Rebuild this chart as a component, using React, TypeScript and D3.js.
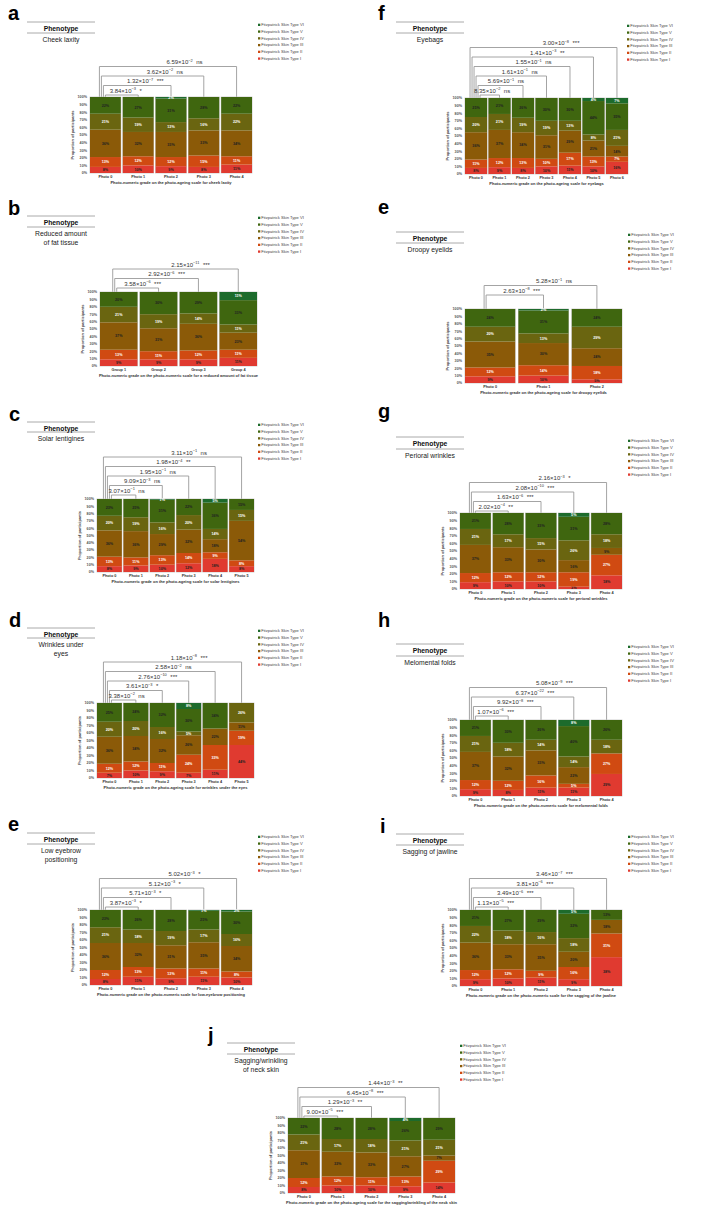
import React from 'react';
import * as d3 from 'd3';

const skinTypes = [
  'Fitzpatrick Skin Type I',
  'Fitzpatrick Skin Type II',
  'Fitzpatrick Skin Type III',
  'Fitzpatrick Skin Type IV',
  'Fitzpatrick Skin Type V',
  'Fitzpatrick Skin Type VI',
];
const skinColors = ['#e03a30', '#d04a12', '#8b5a08', '#6a6510', '#3f660f', '#1d6b2c'];
const labelColors = ['#222', '#fff', '#222', '#fff', '#222', '#fff'];
const keys = ['t0', 't1', 't2', 't3', 't4', 't5'];

const photos5 = ['Photo 0', 'Photo 1', 'Photo 2', 'Photo 3', 'Photo 4'];
const photos6 = ['Photo 0', 'Photo 1', 'Photo 2', 'Photo 3', 'Photo 4', 'Photo 5'];
const photos7 = ['Photo 0', 'Photo 1', 'Photo 2', 'Photo 3', 'Photo 4', 'Photo 5', 'Photo 6'];
const photos3 = ['Photo 0', 'Photo 1', 'Photo 2'];
const groups4 = ['Group 1', 'Group 2', 'Group 3', 'Group 4'];

// values per category: [I, II, III, IV, V, VI] (%)
const cheekValues = [[8, 13, 36, 21, 22, 0], [10, 12, 32, 19, 27, 0], [9, 12, 33, 13, 31, 2], [8, 15, 33, 16, 28, 0], [11, 11, 34, 22, 22, 0]];
const fatValues = [[9, 13, 37, 21, 20, 0], [9, 11, 31, 19, 30, 0], [9, 12, 36, 14, 29, 0], [11, 11, 23, 11, 33, 11]];
const solarValues = [[8, 13, 36, 20, 23, 0], [9, 11, 36, 19, 25, 0], [10, 13, 29, 16, 31, 1], [12, 14, 32, 20, 22, 0], [18, 9, 18, 14, 36, 5], [8, 8, 54, 15, 15, 0]];
const wrinkEyesValues = [[7, 12, 36, 20, 25, 0], [10, 12, 34, 20, 24, 0], [9, 11, 32, 16, 32, 0], [7, 24, 26, 5, 30, 8], [11, 33, 22, 0, 34, 0], [44, 19, 11, 26, 0, 0]];
const browValues = [[8, 12, 36, 21, 23, 0], [11, 13, 32, 18, 26, 0], [9, 13, 31, 19, 28, 0], [11, 11, 35, 17, 25, 1], [10, 8, 34, 16, 30, 2]];
const eyebagValues = [[8, 11, 36, 20, 25, 0], [9, 12, 37, 21, 21, 0], [8, 13, 34, 19, 26, 0], [10, 10, 31, 19, 30, 0], [11, 17, 29, 13, 30, 0], [10, 13, 21, 8, 44, 4], [16, 7, 14, 21, 35, 7]];
const droopyValues = [[9, 12, 35, 20, 24, 0], [10, 14, 30, 13, 31, 2], [5, 18, 24, 29, 24, 0]];
const perioralValues = [[9, 12, 37, 21, 21, 0], [10, 12, 33, 17, 28, 0], [10, 12, 30, 15, 33, 0], [3, 19, 16, 26, 31, 5], [18, 27, 9, 18, 28, 0]];
const melomentalValues = [[9, 12, 37, 21, 21, 0], [8, 12, 32, 18, 30, 0], [11, 16, 33, 14, 26, 0], [11, 5, 22, 14, 40, 8], [29, 27, 0, 18, 26, 0]];
const jawlineValues = [[9, 12, 36, 22, 21, 0], [10, 12, 33, 18, 27, 0], [11, 9, 35, 16, 29, 0], [9, 16, 20, 18, 32, 5], [38, 31, 18, 0, 13, 0]];
const neckValues = [[8, 12, 37, 21, 22, 0], [10, 12, 33, 17, 28, 0], [10, 11, 33, 18, 28, 0], [9, 13, 27, 21, 26, 4], [14, 29, 7, 21, 29, 0]];

// tests: outer to inner; to = index of compared category (vs first)
const cheekTests = [{ to: 4, m: '6.59', e: '-2', s: 'ns' }, { to: 3, m: '3.62', e: '-2', s: 'ns' }, { to: 2, m: '1.32', e: '-7', s: '***' }, { to: 1, m: '3.84', e: '-3', s: '*' }];
const fatTests = [{ to: 3, m: '2.15', e: '-11', s: '***' }, { to: 2, m: '2.92', e: '-6', s: '***' }, { to: 1, m: '3.58', e: '-6', s: '***' }];
const solarTests = [{ to: 5, m: '3.11', e: '-1', s: 'ns' }, { to: 4, m: '1.98', e: '-4', s: '**' }, { to: 3, m: '1.95', e: '-1', s: 'ns' }, { to: 2, m: '9.09', e: '-3', s: 'ns' }, { to: 1, m: '3.07', e: '-1', s: 'ns' }];
const wrinkEyesTests = [{ to: 5, m: '1.18', e: '-8', s: '***' }, { to: 4, m: '2.58', e: '-2', s: 'ns' }, { to: 3, m: '2.76', e: '-10', s: '***' }, { to: 2, m: '3.61', e: '-3', s: '*' }, { to: 1, m: '3.38', e: '-2', s: 'ns' }];
const browTests = [{ to: 4, m: '5.02', e: '-3', s: '*' }, { to: 3, m: '5.12', e: '-3', s: '*' }, { to: 2, m: '5.71', e: '-3', s: '*' }, { to: 1, m: '3.87', e: '-3', s: '*' }];
const eyebagTests = [{ to: 6, m: '3.00', e: '-8', s: '***' }, { to: 5, m: '1.41', e: '-3', s: '**' }, { to: 4, m: '1.55', e: '-1', s: 'ns' }, { to: 3, m: '1.61', e: '-1', s: 'ns' }, { to: 2, m: '5.69', e: '-1', s: 'ns' }, { to: 1, m: '8.35', e: '-2', s: 'ns' }];
const droopyTests = [{ to: 2, m: '5.28', e: '-1', s: 'ns' }, { to: 1, m: '2.63', e: '-8', s: '***' }];
const perioralTests = [{ to: 4, m: '2.16', e: '-3', s: '*' }, { to: 3, m: '2.08', e: '-10', s: '***' }, { to: 2, m: '1.63', e: '-6', s: '***' }, { to: 1, m: '2.02', e: '-4', s: '**' }];
const melomentalTests = [{ to: 4, m: '5.08', e: '-9', s: '***' }, { to: 3, m: '6.37', e: '-22', s: '***' }, { to: 2, m: '9.92', e: '-8', s: '***' }, { to: 1, m: '1.07', e: '-6', s: '***' }];
const jawlineTests = [{ to: 4, m: '3.46', e: '-7', s: '***' }, { to: 3, m: '3.81', e: '-6', s: '***' }, { to: 2, m: '3.49', e: '-6', s: '***' }, { to: 1, m: '1.13', e: '-5', s: '***' }];
const neckTests = [{ to: 4, m: '1.44', e: '-3', s: '**' }, { to: 3, m: '6.45', e: '-8', s: '***' }, { to: 2, m: '1.29', e: '-3', s: '**' }, { to: 1, m: '9.00', e: '-5', s: '***' }];

const yTicks = [0, 0.1, 0.2, 0.3, 0.4, 0.5, 0.6, 0.7, 0.8, 0.9, 1];

const panels = [
  { letter: 'a', lx: 8, ly: 20, px: 27, pt: 22, pb: 33, desc: ['Cheek laxity'], legX: 258, legY: 26, x0: 90, x1: 252, y0: 97, y1: 173, bIn: 95, cats: photos5, values: cheekValues, tests: cheekTests, title: 'Photo-numeric grade on the photo-ageing scale for cheek laxity' },
  { letter: 'b', lx: 8, ly: 215, px: 27, pt: 216, pb: 227, desc: ['Reduced amount', 'of fat tissue'], legX: 258, legY: 219, x0: 100, x1: 257, y0: 292, y1: 366, bIn: 288, cats: groups4, values: fatValues, tests: fatTests, title: 'Photo-numeric grade on the photo-numeric scale for a reduced amount of fat tissue' },
  { letter: 'c', lx: 9, ly: 421, px: 27, pt: 422, pb: 432, desc: ['Solar lentigines'], legX: 258, legY: 426, x0: 97, x1: 254, y0: 499, y1: 572, bIn: 495, cats: photos6, values: solarValues, tests: solarTests, title: 'Photo-numeric grade on the photo-ageing scale for solar lentigines' },
  { letter: 'd', lx: 9, ly: 627, px: 27, pt: 628, pb: 638, desc: ['Wrinkles under', 'eyes'], legX: 258, legY: 632, x0: 97, x1: 254, y0: 703, y1: 778, bIn: 700, cats: photos6, values: wrinkEyesValues, tests: wrinkEyesTests, title: 'Photo-numeric grade on the photo-ageing scale for wrinkles under the eyes' },
  { letter: 'e', lx: 8, ly: 831, px: 27, pt: 833, pb: 844, desc: ['Low eyebrow', 'positioning'], legX: 258, legY: 838, x0: 90, x1: 252, y0: 910, y1: 985, bIn: 907, cats: photos5, values: browValues, tests: browTests, title: 'Photo-numeric grade on the photo-numeric scale for low-eyebrow positioning' },
  { letter: 'f', lx: 378, ly: 20, px: 396, pt: 22, pb: 33, desc: ['Eyebags'], legX: 627, legY: 27, x0: 465, x1: 628, y0: 98, y1: 174, bIn: 95, cats: photos7, values: eyebagValues, tests: eyebagTests, title: 'Photo-numeric grade on the photo-ageing scale for eyebags' },
  { letter: 'e', lx: 378, ly: 214, px: 396, pt: 232, pb: 243, desc: ['Droopy eyelids'], legX: 628, legY: 236, x0: 465, x1: 622, y0: 309, y1: 383, bIn: 295, cats: photos3, values: droopyValues, tests: droopyTests, title: 'Photo-numeric grade on the photo-ageing scale for droopy eyelids' },
  { letter: 'g', lx: 378, ly: 418, px: 396, pt: 437, pb: 449, desc: ['Perioral wrinkles'], legX: 628, legY: 442, x0: 460, x1: 622, y0: 513, y1: 589, bIn: 511, cats: photos5, values: perioralValues, tests: perioralTests, title: 'Photo-numeric grade on the photo-numeric scale for perioral wrinkles' },
  { letter: 'h', lx: 378, ly: 627, px: 396, pt: 644, pb: 656, desc: ['Melomental folds'], legX: 628, legY: 648, x0: 460, x1: 622, y0: 720, y1: 796, bIn: 716, cats: photos5, values: melomentalValues, tests: melomentalTests, title: 'Photo-numeric grade on the photo-numeric scale for melomental folds' },
  { letter: 'i', lx: 380, ly: 833, px: 396, pt: 834, pb: 845, desc: ['Sagging of jawline'], legX: 628, legY: 838, x0: 460, x1: 622, y0: 910, y1: 986, bIn: 907, cats: photos5, values: jawlineValues, tests: jawlineTests, title: 'Photo-numeric grade on the photo-numeric scale for the sagging of the jawline' },
  { letter: 'j', lx: 208, ly: 1042, px: 227, pt: 1043, pb: 1054, desc: ['Sagging/wrinkling', 'of neck skin'], legX: 460, legY: 1047, x0: 288, x1: 455, y0: 1118, y1: 1193, bIn: 1116, cats: photos5, values: neckValues, tests: neckTests, title: 'Photo-numeric grade on the photo-ageing scale for the sagging/wrinkling of the neck skin' },
];

const FONT = '"Liberation Sans", Arial, Helvetica, sans-serif';

function Panel({ p }: { p: any }) {
  const x = d3.scaleBand<string>().domain(p.cats).range([p.x0, p.x1]).paddingInner(0.06).paddingOuter(0);
  const y = d3.scaleLinear().domain([0, 1]).range([p.y1, p.y0]);
  const rows = p.values.map((v: number[], i: number) => {
    const r: any = { cat: p.cats[i] };
    keys.forEach((k, j) => (r[k] = v[j]));
    return r;
  });
  const series = d3.stack<any>().keys(keys).offset(d3.stackOffsetExpand)(rows);
  const bw = x.bandwidth();
  const c0 = (x(p.cats[0]) as number) + bw / 2;
  const nT = p.tests.length;
  const pheW = 68;
  return (
    <g>
      <text x={p.lx} y={p.ly} fontSize={20} fontWeight="bold" fill="#000">{p.letter}</text>
      <line x1={p.px} x2={p.px + pheW} y1={p.pt} y2={p.pt} stroke="#a0a0a0" strokeWidth={0.9} />
      <line x1={p.px} x2={p.px + pheW} y1={p.pb} y2={p.pb} stroke="#a0a0a0" strokeWidth={0.9} />
      <text x={p.px + pheW / 2} y={p.pt + 8.8} fontSize={6.8} fontWeight="bold" textAnchor="middle" fill="#111">Phenotype</text>
      {p.desc.map((d: string, i: number) => (
        <text key={i} x={p.px + pheW / 2} y={p.pb + 8.6 + i * 9} fontSize={6.8} textAnchor="middle" fill="#222">{d}</text>
      ))}
      {skinTypes.slice().reverse().map((s, i) => (
        <g key={s}>
          <rect x={p.legX} y={p.legY + i * 6.75 - 2.3} width={2.3} height={2.3} fill={skinColors[5 - i]} />
          <text x={p.legX + 3.2} y={p.legY + i * 6.75} fontSize={4.1} fill="#444">{s}</text>
        </g>
      ))}
      {/* brackets */}
      {p.tests.map((t: any, k: number) => {
        const ly = p.bIn - (nT - 1 - k) * 9.5;
        const left = c0 - 6 + 2 * k;
        const right = (x(p.cats[t.to]) as number) + bw / 2;
        const cx = (left + right) / 2 + 0.12 * (right - left);
        return (
          <g key={k}>
            <path d={`M${left},${p.y0}V${ly}H${right}V${p.y0}`} fill="none" stroke="#9a9a9a" strokeWidth={0.9} />
            <text x={cx} y={ly - 2.2} fontSize={6} textAnchor="middle" fill="#333">
              <tspan>{t.m}×10</tspan>
              <tspan dy={-2.4} fontSize={3.9}>{t.e.replace('-', '−')}</tspan>
              <tspan dy={2.4} dx={3.5}>{t.s}</tspan>
            </text>
          </g>
        );
      })}
      {/* y axis */}
      {yTicks.map((v) => (
        <text key={v} x={p.x0 - 3} y={y(v) + 1.3} fontSize={3.7} fontWeight="bold" textAnchor="end" fill="#555">{`${Math.round(v * 100)}%`}</text>
      ))}
      <text transform={`translate(${p.x0 - 16.5},${(p.y0 + p.y1) / 2}) rotate(-90)`} fontSize={4} fontWeight="bold" textAnchor="middle" fill="#444">Proportion of participants</text>
      {/* bars */}
      {p.cats.map((c: string) => (
        <rect key={c} x={x(c)} y={p.y0} width={bw} height={p.y1 - p.y0} fill="#fff" stroke="#c4c4c4" strokeWidth={0.8} />
      ))}
      {series.map((s: any, si: number) => (
        <g key={s.key}>
          {s.map((d: any, i: number) => {
            const raw = p.values[i][si];
            if (!raw) return null;
            const yt = y(d[1]);
            const yb = y(d[0]);
            const cat = p.cats[i];
            return (
              <g key={cat}>
                <rect x={x(cat)} y={yt} width={bw} height={yb - yt} fill={skinColors[si]} />
                <text x={(x(cat) as number) + bw / 2} y={(yt + yb) / 2 + 1.3} fontSize={3.7} fontWeight="bold" textAnchor="middle" fill={labelColors[si]}>{`${raw}%`}</text>
              </g>
            );
          })}
        </g>
      ))}
      {p.cats.map((c: string) => (
        <text key={c} x={(x(c) as number) + bw / 2} y={p.y1 + 5.2} fontSize={3.8} fontWeight="bold" textAnchor="middle" fill="#333">{c}</text>
      ))}
      <text x={(p.x0 + p.x1) / 2} y={p.y1 + 11} fontSize={4} fontWeight="bold" textAnchor="middle" fill="#333">{p.title}</text>
    </g>
  );
}

export default function App() {
  return (
    <svg width={708} height={1207} style={{ position: 'absolute', left: 0, top: 0, background: '#fff' }} fontFamily={FONT}>
      <rect width={708} height={1207} fill="#fff" />
      {panels.map((p, i) => <Panel key={i} p={p} />)}
    </svg>
  );
}
